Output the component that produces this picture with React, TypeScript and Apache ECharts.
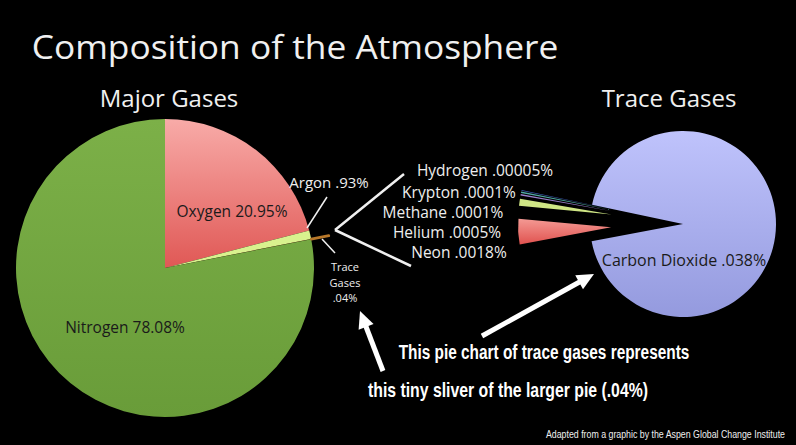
import React, { useEffect, useRef } from "react";
import * as echarts from "echarts";

const majorNames = ["Oxygen", "Argon", "Trace Gases", "Nitrogen"];
const majorValues = [20.95, 0.93, 0.04, 78.08];
const traceNames = ["Carbon Dioxide", "Neon", "Helium", "Methane", "Krypton", "Hydrogen"];
const traceValues = [0.038, 0.0018, 0.0005, 0.0001, 0.0001, 0.00005];

const titleText = "Composition of the Atmosphere";
const leftTitle = "Major Gases";
const rightTitle = "Trace Gases";
const noteLine1 = "This pie chart of trace gases represents";
const noteLine2 = "this tiny sliver of the larger pie (.04%)";
const creditText = "Adapted from a graphic by the Aspen Global Change Institute";

const fmt = (v: number) => (v < 1 ? String(v).replace(/^0/, "") : String(v)) + "%";

const lg = (a: string, b: string) => ({
  type: "linear", x: 0, y: 0, x2: 0, y2: 1,
  colorStops: [{ offset: 0, color: a }, { offset: 1, color: b }],
});

const majorColors: any[] = [
  lg("#f8aba8", "#e05855"),
  "#d9f28e",
  "#b8782a",
  lg("#7cb048", "#699c39"),
];
const traceColors: any[] = [
  lg("#bfc3fc", "#949ade"),
  lg("#f49a94", "#e0524f"),
  "#cfe685",
  "#9a80cc",
  "#4fa8a0",
  "#3c5ab4",
];

const FONT = "'Open Sans', 'DejaVu Sans', sans-serif";
const NARROW = "'Liberation Sans', Arial, sans-serif";

function txt(text: string, x: number, y: number, size: number, fill: string, align = "left", family = FONT, weight = "normal", sx = 1) {
  return {
    type: "text", x, y, z: 100, scaleX: sx, silent: true,
    style: {
      text, fill, textAlign: align, align, textVerticalAlign: "middle", verticalAlign: "middle",
      font: `${weight} ${size}px ${family}`,
    },
  };
}

function line(x1: number, y1: number, x2: number, y2: number, w = 2) {
  return { type: "line", z: 100, silent: true, shape: { x1, y1, x2, y2 }, style: { stroke: "#f0f0f0", lineWidth: w } };
}

function arrow(tx: number, ty: number, hx: number, hy: number) {
  const dx = hx - tx, dy = hy - ty;
  const L = Math.hypot(dx, dy);
  const ux = dx / L, uy = dy / L;
  const nx = -uy, ny = ux;
  const hl = 17, hw = 8;
  const bx = hx - ux * hl, by = hy - uy * hl;
  return [
    { type: "line", z: 100, silent: true, shape: { x1: tx, y1: ty, x2: bx + ux * 2, y2: by + uy * 2 }, style: { stroke: "#fff", lineWidth: 5 } },
    { type: "polygon", z: 100, silent: true, shape: { points: [[hx, hy], [bx + nx * hw, by + ny * hw], [bx - nx * hw, by - ny * hw]] }, style: { fill: "#fff" } },
  ];
}

export default function App() {
  const ref = useRef<HTMLDivElement>(null);
  useEffect(() => {
    const chart = echarts.init(ref.current!, null, { renderer: "svg" });
    const traceLabelTexts = traceNames.map((n, i) => `${n} ${fmt(traceValues[i])}`);
    const option: any = {
      animation: false,
      backgroundColor: "#000",
      series: [
        {
          type: "pie", center: [165, 268], radius: 149, startAngle: 90, silent: true,
          label: { show: false }, labelLine: { show: false }, emphasis: { disabled: true },
          data: majorNames.map((n, i) => ({
            name: n, value: majorValues[i],
            itemStyle: { color: majorColors[i], borderWidth: 0 },
          })),
        },
        {
          type: "pie", center: [165, 268], radius: [149, 167], startAngle: 90, silent: true,
          label: { show: false }, labelLine: { show: false }, emphasis: { disabled: true },
          data: majorNames.map((n, i) => ({
            name: n, value: majorValues[i],
            itemStyle: n === "Trace Gases"
              ? { color: "#b8782a", borderColor: "#b8782a", borderWidth: 2.5 }
              : { color: "rgba(0,0,0,0)", borderWidth: 0 },
          })),
        },
        {
          type: "pie", center: [683, 224], radius: 93, startAngle: 168, silent: true,
          selectedMode: "multiple", selectedOffset: 72,
          label: { show: false }, labelLine: { show: false }, emphasis: { disabled: true },
          data: traceNames.map((n, i) => ({
            name: n, value: traceValues[i], selected: i > 0,
            itemStyle: { color: traceColors[i], borderWidth: 0 },
          })),
        },
      ],
      graphic: [
        txt(titleText, 295, 46, 33, "#f0f0f0", "center", FONT, "normal", 1.07),
        txt(leftTitle, 169, 97, 24, "#f0f0f0", "center"),
        txt(rightTitle, 669, 97, 24, "#f0f0f0", "center"),
        txt(`${majorNames[0]} ${fmt(majorValues[0])}`, 232, 211, 15.5, "#1a1a1a", "center"),
        txt(`${majorNames[3]} ${fmt(majorValues[3])}`, 125, 327, 15.5, "#1a1a1a", "center"),
        txt(`${majorNames[1]} ${fmt(majorValues[1])}`, 329, 182, 15, "#eeeeee", "center"),
        txt("Trace", 345, 266.5, 11, "#eeeeee", "center"),
        txt("Gases", 345, 282, 11, "#eeeeee", "center"),
        txt(fmt(majorValues[2]), 345, 297.5, 11, "#eeeeee", "center"),
        txt(`${traceNames[0]} ${fmt(traceValues[0])}`, 684, 260, 16, "#1a1a1a", "center"),
        txt(traceLabelTexts[5], 485, 170, 15.5, "#eeeeee", "center"),
        txt(traceLabelTexts[4], 459, 192, 15.5, "#eeeeee", "center"),
        txt(traceLabelTexts[3], 443, 212, 15.5, "#eeeeee", "center"),
        txt(traceLabelTexts[2], 447, 232, 15.5, "#eeeeee", "center"),
        txt(traceLabelTexts[1], 459, 252, 15.5, "#eeeeee", "center"),
        line(307, 228, 327, 197, 1.5),
        line(322, 239, 335, 253, 1.5),
        line(335, 230, 404, 174, 2.5),
        line(335, 230, 411, 266, 2.5),
        ...arrow(383, 371, 360, 311),
        ...arrow(482, 336, 594, 274),
        txt(noteLine1, 544, 352, 20, "#ffffff", "center", NARROW, "bold", 0.77),
        txt(noteLine2, 508, 390, 20, "#ffffff", "center", NARROW, "bold", 0.79),
        txt(creditText, 785, 434, 11, "#eeeeee", "right", NARROW, "normal", 0.8),
      ],
    };
    chart.setOption(option);
    return () => chart.dispose();
  }, []);
  return (
    <div
      ref={ref}
      style={{ position: "fixed", left: 0, top: 0, width: 796, height: 445, background: "#000" }}
    />
  );
}
